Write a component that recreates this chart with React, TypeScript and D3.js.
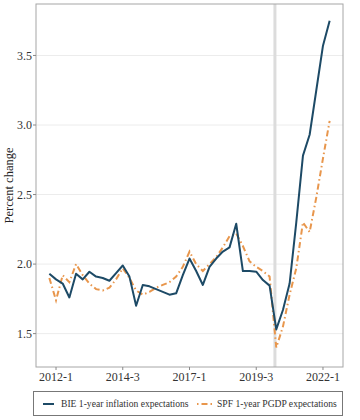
import React from "react";
import * as d3 from "d3";

const quarters = [
  "2011-4",
  "2012-1", "2012-2", "2012-3", "2012-4",
  "2013-1", "2013-2", "2013-3", "2013-4",
  "2014-1", "2014-2", "2014-3", "2014-4",
  "2015-1", "2015-2", "2015-3", "2015-4",
  "2016-1", "2016-2", "2016-3", "2016-4",
  "2017-1", "2017-2", "2017-3", "2017-4",
  "2018-1", "2018-2", "2018-3", "2018-4",
  "2019-1", "2019-2", "2019-3", "2019-4",
  "2020-1", "2020-2", "2020-3", "2020-4",
  "2021-1", "2021-2", "2021-3", "2021-4",
  "2022-1", "2022-2",
];

const bieValues = [
  1.93, 1.89, 1.86, 1.76, 1.93, 1.89, 1.945, 1.91, 1.9, 1.88, 1.935, 1.99,
  1.91, 1.7, 1.85, 1.84, 1.82, 1.8, 1.78, 1.79, 1.92, 2.04, 1.95, 1.85, 1.98,
  2.04, 2.09, 2.12, 2.29, 1.95, 1.95, 1.945, 1.885, 1.845, 1.53, 1.67, 1.86,
  2.3, 2.78, 2.93, 3.25, 3.57, 3.75,
];

const spfValues = [
  1.9, 1.74, 1.92, 1.87, 2.0, 1.92, 1.86, 1.82, 1.81, 1.83, 1.89, 1.97, 1.9,
  1.81, 1.78, 1.8, 1.83, 1.85, 1.87, 1.91, 1.98, 2.09, 2.0, 1.95, 2.0, 2.05,
  2.12, 2.2, 2.22, 2.13, 2.02, 1.98, 1.95, 1.91, 1.4, 1.55, 1.78, 1.97, 2.3,
  2.23, 2.48, 2.76, 3.03,
];

const xTickLabels = ["2012-1", "2014-3", "2017-1", "2019-3", "2022-1"];
const yTicks = [1.5, 2.0, 2.5, 3.0, 3.5];
const seriesNames = [
  "BIE 1-year inflation expectations",
  "SPF 1-year PGDP expectations",
];
const eventQuarterPos = 33.8; // position (in quarters from 2011-4) of the vertical marker

const W = 360;
const H = 420;
const plot = { left: 36, right: 343, top: 4, bottom: 367 };
const BLUE = "#1d4a66";
const ORANGE = "#e8964c";
const FONT = "'Liberation Serif', 'Times New Roman', serif";

export default function App() {
  const x = d3.scaleLinear().domain([-2, 44]).range([plot.left, plot.right]);
  const y = d3.scaleLinear().domain([1.26, 3.87]).range([plot.bottom, plot.top]);

  const line = d3
    .line<number>()
    .x((_, i) => x(i))
    .y((d) => y(d));

  const qIndex = (q: string) => quarters.indexOf(q);

  return (
    <svg
      width={W}
      height={H}
      style={{ position: "absolute", left: 0, top: 0, background: "#fff" }}
      fontFamily={FONT}
    >
      <rect x={0} y={0} width={W} height={H} fill="#fff" />
      {/* grid */}
      {yTicks.map((t) => (
        <line
          key={t}
          x1={plot.left}
          x2={plot.right}
          y1={y(t)}
          y2={y(t)}
          stroke="#ececec"
          strokeWidth={1}
        />
      ))}
      {/* event marker */}
      <line
        x1={x(eventQuarterPos)}
        x2={x(eventQuarterPos)}
        y1={plot.top}
        y2={plot.bottom}
        stroke="#dcdcdc"
        strokeWidth={3}
      />
      {/* series */}
      <path
        d={line(spfValues) || ""}
        fill="none"
        stroke={ORANGE}
        strokeWidth={2}
        strokeDasharray="6,3,1.5,3"
      />
      <path
        d={line(bieValues) || ""}
        fill="none"
        stroke={BLUE}
        strokeWidth={2}
        strokeLinejoin="round"
      />
      {/* frame */}
      <rect
        x={plot.left}
        y={plot.top}
        width={plot.right - plot.left}
        height={plot.bottom - plot.top}
        fill="none"
        stroke="#a6a6a6"
        strokeWidth={1}
      />
      {/* y axis */}
      {yTicks.map((t) => (
        <g key={"y" + t}>
          <line
            x1={plot.left - 3}
            x2={plot.left}
            y1={y(t)}
            y2={y(t)}
            stroke="#888"
          />
          <text
            x={plot.left - 4}
            y={y(t)}
            dy="0.35em"
            textAnchor="end"
            fontSize={12}
            fill="#333"
          >
            {d3.format(".1f")(t)}
          </text>
        </g>
      ))}
      {/* x axis */}
      {xTickLabels.map((lab) => {
        const xi = x(qIndex(lab));
        return (
          <g key={lab}>
            <line
              x1={xi}
              x2={xi}
              y1={plot.bottom}
              y2={plot.bottom + 3}
              stroke="#888"
            />
            <text
              x={xi}
              y={plot.bottom + 14}
              textAnchor="middle"
              fontSize={12}
              fill="#333"
            >
              {lab}
            </text>
          </g>
        );
      })}
      {/* y label */}
      <text
        transform={`translate(13,${(plot.top + plot.bottom) / 2}) rotate(-90)`}
        textAnchor="middle"
        fontSize={12.5}
        fill="#222"
      >
        Percent change
      </text>
      {/* legend */}
      <rect
        x={33.5}
        y={391.5}
        width={309}
        height={24}
        fill="#fff"
        stroke="#777"
        strokeWidth={1}
      />
      <line x1={43} x2={54} y1={404} y2={404} stroke={BLUE} strokeWidth={2} />
      <text x={61} y={404} dy="0.35em" fontSize={9.6} fill="#333">
        {seriesNames[0]}
      </text>
      <line
        x1={197}
        x2={212}
        y1={404}
        y2={404}
        stroke={ORANGE}
        strokeWidth={2}
        strokeDasharray="1.5,3,6,3"
      />
      <text x={217} y={404} dy="0.35em" fontSize={9.6} fill="#333">
        {seriesNames[1]}
      </text>
    </svg>
  );
}
